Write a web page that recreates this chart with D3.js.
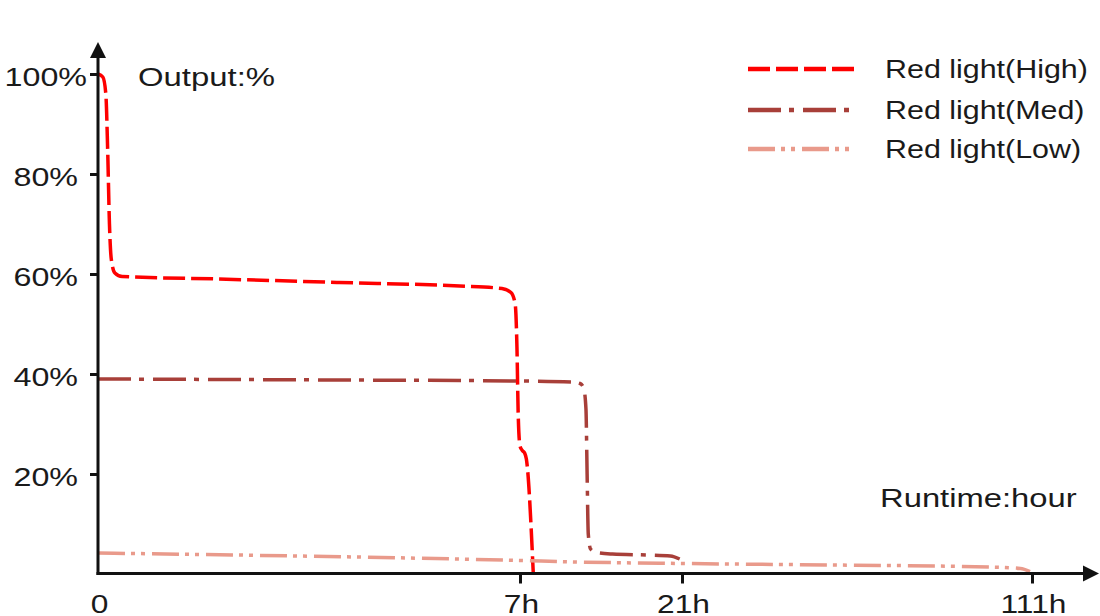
<!DOCTYPE html>
<html>
<head>
<meta charset="utf-8">
<script src="https://cdn.jsdelivr.net/npm/d3@7"></script>
<style>
  html, body { margin: 0; padding: 0; background: #fff; }
  svg { display: block; }
  text { font-family: "Liberation Sans", Arial, Helvetica, sans-serif; fill: #1a1a1a; }
</style>
</head>
<body>
<svg id="chart" width="1100" height="616"></svg>
<script>
// ---------- data ----------
const xTickValues = [0, 7, 21, 111];
const xTickLabels = ["0", "7h", "21h", "111h"];
const yTickValues = [20, 40, 60, 80, 100];
const yTickLabels = ["20%", "40%", "60%", "80%", "100%"];

const seriesNames = ["Red light(High)", "Red light(Med)", "Red light(Low)"];

// [hours, output %]
const highValues = [
  [0, 100], [0.08, 99.4], [0.13, 96], [0.16, 85], [0.19, 70], [0.22, 63],
  [0.28, 60.2], [0.4, 59.5], [2, 59.0], [4, 58.3], [6, 57.6], [6.7, 57.1],
  [6.85, 56.3], [6.92, 54], [6.95, 45], [6.97, 32], [7.0, 25.6], [7.2, 24.7],
  [7.4, 24.2], [7.55, 23], [8.15, 0]
];
const medValues = [
  [0, 39], [4, 38.8], [7, 38.6], [11.5, 38.4], [12.2, 38.1], [12.5, 37.2],
  [12.7, 33], [12.8, 20], [12.9, 8], [13.1, 5], [13.6, 4.3], [15, 4.0],
  [18, 3.8], [20, 3.6], [20.8, 3.0]
];
const lowValues = [
  [0, 4.2], [7, 2.7], [12, 2.4], [21, 2.1], [60, 1.8], [100, 1.4],
  [108, 1.1], [110.5, 0.5]
];

// ---------- styles ----------
const seriesStyles = [
  { color: "#fe0000", dash: "22,6" },
  { color: "#a83f39", dash: "33,8,5,9" },
  { color: "#e99a8b", dash: "27,6,4,6,4,7" }
];

const svg = d3.select("#chart");

const x = d3.scaleLinear().domain(xTickValues).range([98, 520, 682, 1032]);
const y = d3.scaleLinear().domain([0, 100]).range([574, 74]);

const axisColor = "#111";
const textColor = "#1a1a1a";

function stretch(sel, factor) {
  sel.each(function () {
    const len = this.getComputedTextLength();
    d3.select(this)
      .attr("textLength", len * factor)
      .attr("lengthAdjust", "spacingAndGlyphs");
  });
}

// series lines
const line = d3.line()
  .x(d => x(d[0]))
  .y(d => y(d[1]))
  .curve(d3.curveMonotoneX);

const allSeries = [highValues, medValues, lowValues];
allSeries.forEach((vals, i) => {
  svg.append("path")
    .datum(vals)
    .attr("d", line)
    .attr("fill", "none")
    .attr("stroke", seriesStyles[i].color)
    .attr("stroke-width", 3.5)
    .attr("stroke-dasharray", seriesStyles[i].dash);
});

// axes lines with arrows
const x0 = x(0), yAxisY = 573.5;
svg.append("line")
  .attr("x1", x0).attr("y1", yAxisY + 1.5)
  .attr("x2", x0).attr("y2", 52)
  .attr("stroke", axisColor).attr("stroke-width", 3);
svg.append("path")
  .attr("d", `M${x0},42 L${x0 - 8},58 L${x0 + 8},58 Z`)
  .attr("fill", axisColor);
svg.append("line")
  .attr("x1", x0 - 1.5).attr("y1", yAxisY)
  .attr("x2", 1088).attr("y2", yAxisY)
  .attr("stroke", axisColor).attr("stroke-width", 3);
svg.append("path")
  .attr("d", `M1099,${yAxisY} L1083,${yAxisY - 8} L1083,${yAxisY + 8} Z`)
  .attr("fill", axisColor);

// y axis ticks
const yAxis = d3.axisLeft(y)
  .tickValues(yTickValues)
  .tickSize(8)
  .tickFormat((d, i) => yTickLabels[i]);
const gy = svg.append("g").attr("transform", `translate(${x0},0)`).call(yAxis);
gy.select(".domain").remove();
gy.selectAll(".tick line").attr("stroke", axisColor).attr("stroke-width", 3);
const yLabels = gy.selectAll(".tick text")
  .attr("x", d => d === 100 ? -11 : -20)
  .attr("dy", 11)
  .attr("fill", textColor)
  .style("font-size", "26px")
  .style("font-family", "'Liberation Sans', Arial, sans-serif");
stretch(yLabels, 1.24);

// x axis ticks
const xAxis = d3.axisBottom(x)
  .tickValues(xTickValues)
  .tickSize(10)
  .tickFormat((d, i) => xTickLabels[i]);
const gx = svg.append("g").attr("transform", `translate(0,${yAxisY})`).call(xAxis);
gx.select(".domain").remove();
gx.selectAll(".tick line")
  .attr("stroke", axisColor).attr("stroke-width", 3)
  .style("display", d => d === 0 ? "none" : null);
const xLabels = gx.selectAll(".tick text")
  .attr("y", 0)
  .attr("dy", 39)
  .attr("dx", 1)
  .attr("fill", textColor)
  .style("font-size", "26px")
  .style("font-family", "'Liberation Sans', Arial, sans-serif");
stretch(xLabels, 1.22);

// axis titles
const t1 = svg.append("text")
  .attr("x", 138).attr("y", 86)
  .style("font-size", "26.5px")
  .text("Output:%");
stretch(t1, 1.24);
const t2 = svg.append("text")
  .attr("x", 880).attr("y", 507)
  .style("font-size", "26px")
  .text("Runtime:hour");
stretch(t2, 1.26);

// legend
const legendY = [69, 110, 149];
seriesNames.forEach((name, i) => {
  svg.append("line")
    .attr("x1", 748).attr("x2", 856)
    .attr("y1", legendY[i]).attr("y2", legendY[i])
    .attr("stroke", seriesStyles[i].color)
    .attr("stroke-width", 4.5)
    .attr("stroke-dasharray", seriesStyles[i].dash);
  const t = svg.append("text")
    .attr("x", 885).attr("y", legendY[i] + 9)
    .style("font-size", "26px")
    .text(name);
  stretch(t, 1.17);
});
</script>
</body>
</html>
